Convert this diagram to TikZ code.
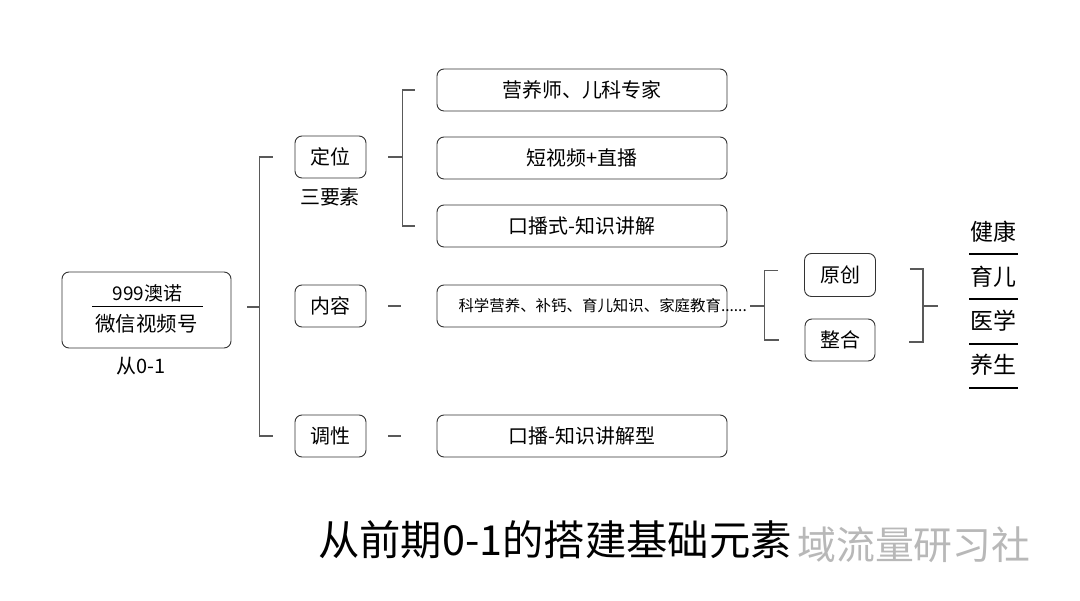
\documentclass[tikz,border=0pt]{standalone}
\usepackage{fontspec}
\setmainfont{Noto Sans CJK SC}
\definecolor{linecol}{rgb}{0.35,0.35,0.35}
\definecolor{boxcol}{rgb}{0.2,0.2,0.2}
\definecolor{markcol}{rgb}{0.72,0.72,0.72}
\begin{document}
\begin{tikzpicture}[box/.style={draw=boxcol,rounded corners=7bp,line width=0.9bp,inner sep=0pt},
  link/.style={draw=linecol,line width=1.1bp},
  under/.style={draw=black,line width=1.3bp}]
		%%
  \useasboundingbox (0bp,0bp) rectangle (1080bp,601bp);
  \node (Main) at (146.5bp,291.0bp) [box,minimum width=169bp,minimum height=76bp] {};
  \node (Acct) at (147.5bp,308.0bp) {\fontsize{19}{21}\selectfont 999澳诺};
  \node (Chan) at (146.5bp,277.0bp) {\fontsize{20.5}{22}\selectfont 微信视频号};
  \node (From) at (141.0bp,235.0bp) {\fontsize{20}{22}\selectfont 从0-1};
  \node (Pos) at (330.5bp,444.0bp) [box,minimum width=71bp,minimum height=42bp] {\fontsize{20}{22}\selectfont 定位};
  \node (Three) at (330.0bp,404.0bp) {\fontsize{20}{22}\selectfont 三要素};
  \node (Cont) at (330.5bp,295.0bp) [box,minimum width=71bp,minimum height=42bp] {\fontsize{20}{22}\selectfont 内容};
  \node (Tone) at (330.5bp,165.0bp) [box,minimum width=71bp,minimum height=42bp] {\fontsize{20}{22}\selectfont 调性};
  \node (P1) at (582.0bp,511.0bp) [box,minimum width=290bp,minimum height=42bp] {\fontsize{20}{22}\selectfont 营养师、儿科专家};
  \node (P2) at (582.0bp,443.0bp) [box,minimum width=290bp,minimum height=42bp] {\fontsize{20}{22}\selectfont 短视频+直播};
  \node (P3) at (582.0bp,375.0bp) [box,minimum width=290bp,minimum height=42bp] {\fontsize{20}{22}\selectfont 口播式-知识讲解};
  \node (C1) at (582.0bp,295.0bp) [box,minimum width=290bp,minimum height=42bp] {};
  \node (C1t) at (455.0bp,295.0bp) [anchor=west] {\fontsize{15.5}{17}\selectfont 科学营养、补钙、育儿知识、家庭教育......};
  \node (T1) at (582.0bp,165.0bp) [box,minimum width=290bp,minimum height=42bp] {\fontsize{20}{22}\selectfont 口播-知识讲解型};
  \node (Orig) at (840.0bp,326.0bp) [box,minimum width=71bp,minimum height=43bp] {\fontsize{20}{22}\selectfont 原创};
  \node (Merge) at (840.0bp,261.0bp) [box,minimum width=70bp,minimum height=42bp] {\fontsize{20}{22}\selectfont 整合};
  \node (Health) at (993.5bp,369.0bp) {\fontsize{23}{25}\selectfont 健康};
  \node (Child) at (993.5bp,324.0bp) {\fontsize{23}{25}\selectfont 育儿};
  \node (Med) at (993.5bp,280.0bp) {\fontsize{23}{25}\selectfont 医学};
  \node (Care) at (993.5bp,236.0bp) {\fontsize{23}{25}\selectfont 养生};
  \node (Mark) at (1034.0bp,56.0bp) [anchor=east,text=markcol] {\fontsize{39}{42}\selectfont 域流量研习社};
  \node (Title) at (555.0bp,61.0bp) {\fontsize{41.5}{45}\selectfont 从前期0-1的搭建基础元素};
  % left tree
  \coordinate (Sp) at (260.0bp,294.0bp);
  \draw [link] (Main.east) ++(16bp,3bp) coordinate (Mj) -- (Sp);
  \draw [link] (Pos.west) ++(-22bp,0) -- ++(-13bp,0) |- ([xshift=-22bp]Tone.west);
  % 定位 branch
  \draw [link] ([xshift=22bp]Pos.east) -- ++(14bp,0) coordinate (Pj);
  \draw [link] ([xshift=-22bp]P1.west) -| (Pj) |- ([xshift=-22bp]P3.west);
  \draw [link] ([xshift=22bp]Cont.east) -- ++(13bp,0);
  \draw [link] ([xshift=22bp]Tone.east) -- ++(13bp,0);
  % 内容 branch
  \draw [link] ([xshift=23bp]C1.east) -- ++(14bp,0) coordinate (Cj);
  \draw [link] ([xshift=-26bp,yshift=4.5bp]Orig.west) -| (Cj) |- ([xshift=-26bp]Merge.west);
  \draw [link] ([xshift=34bp,yshift=6bp]Orig.east) -- ++(13bp,0) coordinate (Rj) |- ([xshift=34bp,yshift=-2bp]Merge.east);
  \draw [link] (Rj |- Cj) -- ++(15bp,0);
  % right list
  \draw (969.0bp,347.0bp) [under] -- (1018.0bp,347.0bp);
  \draw (969.0bp,302.0bp) [under] -- (1018.0bp,302.0bp);
  \draw (969.0bp,257.0bp) [under] -- (1018.0bp,257.0bp);
  \draw (969.0bp,213.0bp) [under] -- (1018.0bp,213.0bp);
  \draw (92.0bp,295.0bp) [draw=black,line width=0.8bp] -- (203.0bp,295.0bp);
		%
	\end{tikzpicture}
\end{document}
